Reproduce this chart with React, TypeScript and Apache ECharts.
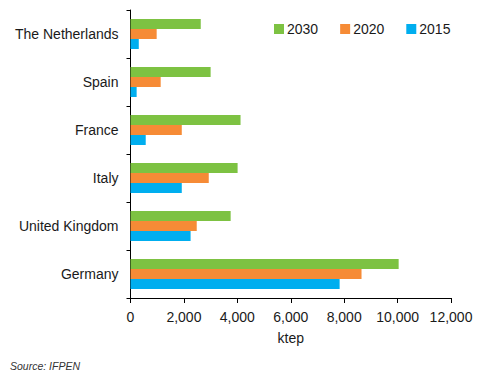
import React, { useEffect, useRef } from "react";
import * as echarts from "echarts";

const countries = ["The Netherlands", "Spain", "France", "Italy", "United Kingdom", "Germany"];
const seriesNames = ["2030", "2020", "2015"];
const values2030 = [2630, 3000, 4120, 4010, 3750, 10040];
const values2020 = [980, 1130, 1920, 2930, 2480, 8650];
const values2015 = [310, 230, 570, 1920, 2250, 7830];
const colors = ["#7DC242", "#F68B36", "#00AEEF"];
const xTicks = { min: 0, max: 12000, interval: 2000 };

export default function App() {
  const ref = useRef<HTMLDivElement>(null);
  useEffect(() => {
    const chart = echarts.init(ref.current!, null, { renderer: "svg" });
    const font = "Liberation Sans, Arial, Helvetica, sans-serif";
    const data = [values2030, values2020, values2015];
    chart.setOption({
      animation: false,
      textStyle: { fontFamily: font },
      grid: { left: 130.5, right: 44, top: 10, bottom: 86, containLabel: false },
      legend: {
        data: seriesNames,
        top: 22,
        left: 274,
        padding: 0,
        itemWidth: 10,
        itemHeight: 10,
        itemGap: 22,
        icon: "rect",
        textStyle: { fontSize: 14, color: "#1a1a1a", fontFamily: font, padding: [0, 0, 0, -2] },
      },
      xAxis: {
        type: "value",
        min: xTicks.min,
        max: xTicks.max,
        interval: xTicks.interval,
        name: "ktep",
        nameLocation: "middle",
        nameGap: 33,
        nameTextStyle: { fontSize: 14, color: "#1a1a1a" },
        splitLine: { show: false },
        axisLine: { show: true, lineStyle: { color: "#000", width: 1 } },
        axisTick: { show: true, length: 5, lineStyle: { color: "#000" } },
        axisLabel: {
          fontSize: 14,
          color: "#1a1a1a",
          margin: 12,
          formatter: (v: number) => v.toLocaleString("en-US"),
        },
      },
      yAxis: {
        type: "category",
        data: countries,
        inverse: true,
        axisLine: { show: true, lineStyle: { color: "#000", width: 1 } },
        axisTick: { show: true, length: 4, lineStyle: { color: "#000" } },
        axisLabel: { fontSize: 14, color: "#1a1a1a", margin: 12 },
      },
      series: seriesNames.map((name, i) => ({
        name,
        type: "bar",
        data: data[i],
        barWidth: 10,
        barGap: "0%",
        barCategoryGap: "37.5%",
        itemStyle: { color: colors[i] },
      })),
      graphic: [
        {
          type: "text",
          left: 10,
          top: 360,
          style: {
            text: "Source: IFPEN",
            fontSize: 10.5,
            fontStyle: "italic",
            fill: "#333",
            fontFamily: font,
          },
        },
      ],
    });
    return () => chart.dispose();
  }, []);
  return <div ref={ref} style={{ width: 495, height: 384, position: "absolute", left: 0, top: 0 }} />;
}
